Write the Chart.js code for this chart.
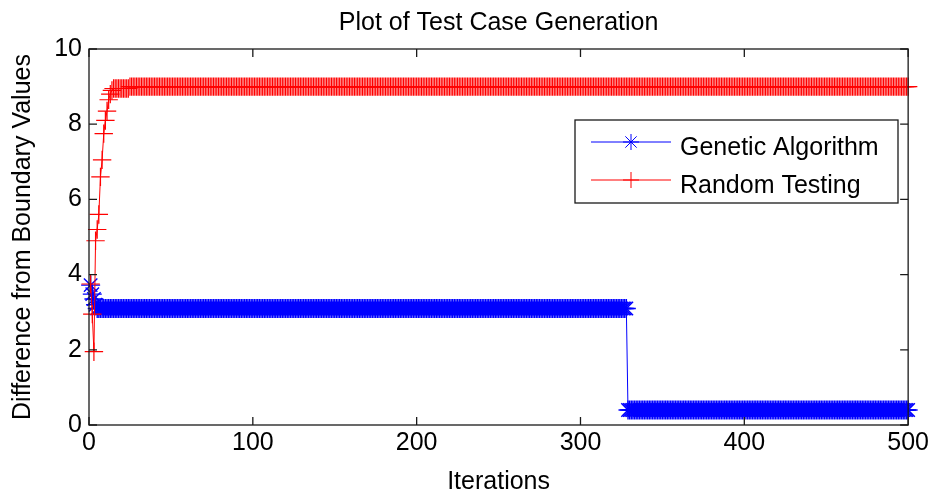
<!DOCTYPE html>
<html>
<head>
<meta charset="utf-8">
<title>Plot of Test Case Generation</title>
<script src="https://cdn.jsdelivr.net/npm/chart.js@4.4.1/dist/chart.umd.min.js"></script>
<style>
  html, body { margin: 0; padding: 0; background: #fff; }
  canvas { display: block; }
</style>
</head>
<body>
<canvas id="plot" width="932" height="497"></canvas>
<script>
// values, stored as runs: value[i] holds for runs[i] iterations
const gaValues = [3.72, 3.48, 3.35, 3.2, 3.1, 0.4];
const gaRuns = [1, 1, 1, 1, 324, 172];

const rtValues = [3.75, 2.95, 1.95, 4.9, 5.2, 5.6, 6.6, 7.05, 7.75, 8.1, 8.35, 8.65, 8.8, 8.9, 8.95, 9.0];
const rtRuns = [1, 1, 1, 1, 1, 1, 1, 1, 1, 1, 1, 1, 1, 1, 10, 476];

const xTicks = [0, 100, 200, 300, 400, 500];
const yTicks = [0, 2, 4, 6, 8, 10];

const FONT = '"Liberation Sans", Arial, Helvetica, sans-serif';

// expand the runs into {x: iteration, y: value} points, iterations start at 1
function expandRuns(values, runs) {
  const pts = [];
  let it = 1;
  values.forEach((v, i) => {
    for (let k = 0; k < runs[i]; k++) pts.push({ x: it++, y: v });
  });
  return pts;
}

// box around the axes with inward tick marks on all four sides (matlab style)
const axesFrame = {
  id: 'axesFrame',
  afterDraw(chart) {
    const { ctx, chartArea: a, scales } = chart;
    const len = 8;
    ctx.save();
    ctx.strokeStyle = '#1a1a1a';
    ctx.lineWidth = 1.3;
    ctx.strokeRect(a.left, a.top, a.right - a.left, a.bottom - a.top);
    ctx.beginPath();
    xTicks.forEach(t => {
      const px = scales.x.getPixelForValue(t);
      ctx.moveTo(px, a.bottom); ctx.lineTo(px, a.bottom - len);
      ctx.moveTo(px, a.top); ctx.lineTo(px, a.top + len);
    });
    yTicks.forEach(t => {
      const py = scales.y.getPixelForValue(t);
      ctx.moveTo(a.left, py); ctx.lineTo(a.left + len, py);
      ctx.moveTo(a.right, py); ctx.lineTo(a.right - len, py);
    });
    ctx.stroke();
    ctx.restore();
  }
};

function markerAt(ctx, ds, x, y) {
  const opts = { pointStyle: ds.pointStyle, radius: ds.pointRadius, rotation: 0, borderWidth: ds.pointBorderWidth };
  ctx.strokeStyle = ds.pointBorderColor;
  ctx.fillStyle = ds.pointBackgroundColor;
  ctx.lineWidth = ds.pointBorderWidth;
  if (Chart.helpers && Chart.helpers.drawPoint) {
    Chart.helpers.drawPoint(ctx, opts, x, y);
    return;
  }
  const r = ds.pointRadius;
  ctx.beginPath();
  ctx.moveTo(x - r, y); ctx.lineTo(x + r, y);
  ctx.moveTo(x, y - r); ctx.lineTo(x, y + r);
  if (ds.pointStyle === 'star') {
    const d = r * Math.SQRT1_2;
    ctx.moveTo(x - d, y - d); ctx.lineTo(x + d, y + d);
    ctx.moveTo(x - d, y + d); ctx.lineTo(x + d, y - d);
  }
  ctx.stroke();
}

// boxed legend inside the axes, upper right
const boxLegend = {
  id: 'boxLegend',
  afterDraw(chart) {
    const { ctx } = chart;
    const box = { x: 575, y: 120, w: 323, h: 83 };
    const rows = [142, 180];
    ctx.save();
    ctx.fillStyle = '#fff';
    ctx.fillRect(box.x, box.y, box.w, box.h);
    ctx.strokeStyle = '#1a1a1a';
    ctx.lineWidth = 1.3;
    ctx.strokeRect(box.x, box.y, box.w, box.h);
    chart.data.datasets.forEach((ds, i) => {
      const y = rows[i];
      ctx.strokeStyle = ds.borderColor;
      ctx.lineWidth = ds.borderWidth;
      ctx.beginPath();
      ctx.moveTo(591, y); ctx.lineTo(671, y);
      ctx.stroke();
      markerAt(ctx, Object.assign({}, ds, { pointRadius: 8, pointBorderWidth: 1 }), 631, y);
      ctx.fillStyle = '#000';
      ctx.font = '25px ' + FONT;
      ctx.textAlign = 'left';
      ctx.textBaseline = 'alphabetic';
      ctx.fillText(ds.label, 680, y + 13);
    });
    ctx.restore();
  }
};

new Chart(document.getElementById('plot'), {
  type: 'line',
  data: {
    datasets: [
      {
        label: 'Genetic Algorithm',
        data: expandRuns(gaValues, gaRuns),
        borderColor: '#0000ff',
        backgroundColor: '#0000ff',
        pointBackgroundColor: '#0000ff',
        pointBorderColor: '#0000ff',
        pointStyle: 'star',
        pointRadius: 9.5,
        pointBorderWidth: 1.4,
        borderWidth: 1,
        tension: 0,
        fill: false,
        clip: false,
        order: 1
      },
      {
        label: 'Random Testing',
        data: expandRuns(rtValues, rtRuns),
        borderColor: '#ff0000',
        backgroundColor: '#ff0000',
        pointBackgroundColor: '#ff0000',
        pointBorderColor: '#ff0000',
        pointStyle: 'cross',
        pointRadius: 9.2,
        pointBorderWidth: 1.2,
        borderWidth: 1,
        tension: 0,
        fill: false,
        clip: false,
        order: 0
      }
    ]
  },
  options: {
    responsive: false,
    animation: false,
    events: [],
    layout: { padding: { left: 0, right: 23, top: 0, bottom: 0 } },
    scales: {
      x: {
        type: 'linear',
        min: 0,
        max: 500,
        afterFit: s => { s.height = 72; },
        afterBuildTicks: s => { s.ticks = xTicks.map(v => ({ value: v })); },
        grid: { display: false, drawTicks: false },
        border: { display: false },
        ticks: { color: '#000', padding: 3, maxRotation: 0, font: { family: FONT, size: 25 } },
        title: {
          display: true,
          text: 'Iterations',
          color: '#000',
          padding: { top: 0, bottom: 0 },
          font: { family: FONT, size: 25 }
        }
      },
      y: {
        min: 0,
        max: 10,
        afterFit: s => { s.width = 89; },
        afterBuildTicks: s => { s.ticks = yTicks.map(v => ({ value: v })); },
        grid: { display: false, drawTicks: false },
        border: { display: false },
        ticks: { color: '#000', padding: 7, font: { family: FONT, size: 25 } },
        title: {
          display: true,
          text: 'Difference from Boundary Values',
          color: '#000',
          padding: { top: 8, bottom: 0 },
          font: { family: FONT, size: 25 }
        }
      }
    },
    plugins: {
      legend: { display: false },
      tooltip: { enabled: false },
      title: {
        display: true,
        fullSize: false,
        text: 'Plot of Test Case Generation',
        color: '#000',
        padding: { top: 8, bottom: 11 },
        font: { family: FONT, size: 25, weight: 'normal' }
      }
    }
  },
  plugins: [axesFrame, boxLegend]
});
</script>
</body>
</html>
